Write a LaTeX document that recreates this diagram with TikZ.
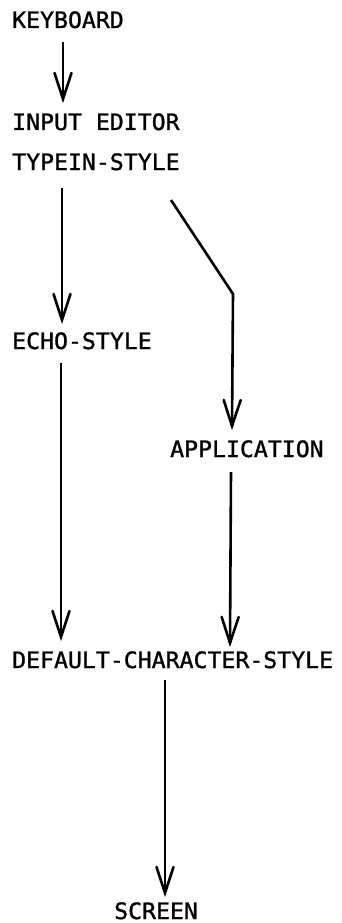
\documentclass[tikz,border=0pt]{standalone}
\usepackage{fontspec}
\newfontfamily\plotfont[FakeStretch=1.03,FakeBold=1.2]{DejaVu Sans Mono}
\usetikzlibrary{calc,decorations.markings}
\begin{document}
\begin{tikzpicture}[x=1pt,y=-1pt,
  lbl/.style={anchor=base west,inner sep=0pt,font={\plotfont\fontsize{22.5pt}{22.5pt}\selectfont}},
  vee/.style={line width=2.6pt,line cap=butt,line join=miter,postaction={decorate},
    decoration={markings,mark=at position 1 with {\draw[line width=2.6pt,line cap=round,line join=miter] (-26pt,8.5pt) -- (0pt,0pt) -- (-26pt,-8.5pt);}}}]
\fill[white] (0,0) rectangle (342,923);
\useasboundingbox (0,0) rectangle (342,923);

\node[lbl] (kb)   at (12,28)  {KEYBOARD};
\node[lbl] (ie)   at (12,130) {INPUT EDITOR};
\node[lbl] (ty)   at (12,170) {TYPEIN-STYLE};
\node[lbl] (echo) at (12,349) {ECHO-STYLE};
\node[lbl] (app)  at (170,457) {APPLICATION};
\node[lbl] (def)  at (12,668) {DEFAULT-CHARACTER-STYLE};
\node[lbl] (scr)  at (114,919) {SCREEN};
\coordinate (kink) at (233,294);

\draw[vee] ($(kb.base west)+(51,14)$) -- ($(ie.base west)+(51,-31)$);
\draw[vee] ($(ty.base west)+(50,18)$) -- ($(echo.base west)+(50,-29)$);
\draw[vee] ($(ty.base west)+(159,30)$) -- (kink) -- ($(app.base west)+(62,-31)$);
\draw[vee] ($(echo.base west)+(49,14)$) -- ($(def.base west)+(49,-31)$);
\draw[vee] ($(app.base west)+(61,15)$) -- ($(def.base west)+(218,-25)$);
\draw[vee] ($(def.base west)+(153,12)$) -- ($(scr.base west)+(51,-26)$);
\end{tikzpicture}
\end{document}
